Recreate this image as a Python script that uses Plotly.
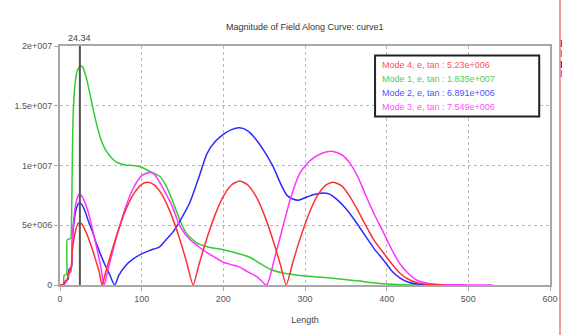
import plotly.graph_objects as go

# ---- data (values in units of 1e6) ----
mode4_x = [0, 4, 6, 9, 10, 13, 14, 15, 17, 20, 23, 26, 30, 35, 40, 45, 48, 51.5,
           56, 62, 70, 80, 90, 100, 107, 115, 125, 135, 145, 155, 163,
           170, 180, 190, 200, 210, 220, 230, 240, 250, 260, 270, 277,
           285, 295, 305, 315, 325, 334, 345, 355, 365, 375, 385, 396, 406, 416, 426, 437, 450, 470]
mode4_y = [0, 0.05, 0.3, 0.4, 1.0, 1.1, 1.5, 2.8, 3.8, 4.8, 5.2, 5.15, 4.7, 3.9, 2.9, 1.8, 1.1, 0,
           1.09, 2.51, 4.28, 6.19, 7.60, 8.42, 8.6, 8.40, 7.55, 6.10, 4.18, 1.93, 0,
           1.67, 3.93, 5.89, 7.41, 8.37, 8.7, 8.37, 7.41, 5.89, 3.93, 1.67, 0,
           1.88, 4.09, 5.99, 7.45, 8.34, 8.6, 8.3, 7.4, 6.2, 4.9, 3.7, 2.7, 1.8, 1.0, 0.5, 0.2, 0.05, 0]

mode1_x = [0, 4, 5, 8, 9, 13, 14, 15, 16, 18, 21, 25, 28, 32, 36, 40, 45, 50, 55, 60, 65, 70, 80,
           90, 100, 110, 122, 130, 138, 147, 155, 168, 180, 200, 220, 233, 245, 258, 273,
           294, 320, 343, 365, 380, 396, 420, 470]
mode1_y = [0, 0, 0.8, 0.9, 3.8, 3.9, 5.0, 10.0, 14.0, 16.5, 17.9, 18.35, 18.2, 17.4, 16.2, 14.9, 13.4, 12.2, 11.4, 10.9, 10.5, 10.25, 10.05,
           10.0, 9.85, 9.5, 9.1, 8.3, 7.0, 5.4, 4.3, 3.5, 3.2, 2.95, 2.6, 2.3, 1.8, 1.3, 1.0,
           0.8, 0.65, 0.5, 0.35, 0.2, 0.1, 0.03, 0]

mode2_x = [0, 5, 8, 10, 11, 14, 15, 17, 20, 23, 26, 30, 35, 40, 45, 50, 55, 60, 67,
           72, 80, 90, 100, 110, 122, 130, 138, 148, 159, 170, 180, 190, 200, 210, 220,
           230, 241, 250, 261, 270, 278, 285, 292, 300, 310, 322, 330, 340, 350, 360,
           375, 385, 396, 406, 416, 426, 437, 450, 462]
mode2_y = [0, 0.05, 0.4, 0.5, 1.3, 1.5, 3.5, 5.2, 6.4, 6.85, 6.8, 6.3, 5.3, 4.4, 3.4, 2.5, 1.7, 1.0, 0,
           0.8, 1.6, 2.2, 2.6, 2.9, 3.2, 3.8, 4.4, 5.5, 6.9, 9.0, 11.0, 12.0, 12.6, 13.0, 13.15,
           12.9, 12.1, 11.2, 9.9, 8.5, 7.5, 7.2, 7.1, 7.3, 7.55, 7.7, 7.6, 7.1, 6.4, 5.5,
           4.0, 3.0, 2.1, 1.2, 0.6, 0.25, 0.08, 0.02, 0]

mode3_x = [0, 5, 8, 10, 13, 14, 15, 17, 20, 23, 26, 30, 35, 40, 45, 50, 54,
           60, 70, 80, 90, 100, 108, 115, 122, 130, 138, 147, 159, 170, 180, 190, 200,
           210, 220, 230, 241, 253, 263, 273, 283, 294, 306, 320, 333, 345, 355, 365,
           375, 385, 396, 406, 416, 426, 437, 450, 470, 500, 530]
mode3_y = [0, 0.05, 0.4, 0.7, 1.4, 1.6, 3.6, 5.6, 7.0, 7.55, 7.5, 7.0, 6.0, 4.6, 3.1, 1.5, 0,
           1.63, 4.2, 6.45, 8.14, 9.15, 9.4, 9.3, 8.6, 7.6, 6.5, 4.9, 3.8, 3.2, 2.7, 2.3, 1.9,
           1.7, 1.5, 1.1, 0.7, 0, 2.3, 4.9, 7.4, 9.4, 10.4, 11.0, 11.2, 10.9, 10.2, 9.0,
           7.4, 5.9, 4.4, 3.0, 1.8, 1.0, 0.4, 0.15, 0.03, 0.01, 0]

legend_labels = ["Mode 4, e, tan : 5.23e+006", "Mode 1, e, tan : 1.835e+007",
                 "Mode 2, e, tan : 6.891e+006", "Mode 3, e, tan : 7.549e+006"]
legend_colors = ["#ff5050", "#50cc50", "#5050ff", "#ff50ff"]

marker_x = 24.34
x_ticks = [0, 100, 200, 300, 400, 500, 600]
y_ticks = [0, 5e6, 1e7, 1.5e7, 2e7]
y_tick_text = ["0", "5e+006", "1e+007", "1.5e+007", "2e+007"]

FONT = "Liberation Sans"

fig = go.Figure()
series = [(mode1_x, mode1_y, "#33cc33"), (mode2_x, mode2_y, "#2a2aff"),
          (mode3_x, mode3_y, "#ff33ff"), (mode4_x, mode4_y, "#ff3030")]
for xs, ys, c in series:
    fig.add_trace(go.Scatter(x=xs, y=[v * 1e6 for v in ys], mode="lines",
                             line=dict(color=c, width=1.5, shape="spline", smoothing=0.6),
                             showlegend=False, hoverinfo="skip"))

axis_common = dict(showline=True, mirror=True, linecolor="#a8a8a8", linewidth=2,
                   ticks="outside", ticklen=4, tickcolor="#a8a8a8",
                   tickfont=dict(family=FONT, size=9, color="#555"),
                   showgrid=True, gridcolor="#b8b8b8", griddash="dot", gridwidth=1,
                   zeroline=False, automargin=False)

fig.update_xaxes(range=[0, 600], tickvals=x_ticks, **axis_common,
                 title=dict(text="Length", font=dict(family=FONT, size=9, color="#444"), standoff=14))
fig.update_yaxes(range=[0, 2e7], tickvals=y_ticks, ticktext=y_tick_text, **axis_common)

edge_x = (560 - 60) / 490
shapes = [
    dict(type="line", xref="x", yref="paper", x0=marker_x, x1=marker_x, y0=0, y1=1,
         line=dict(color="#555555", width=2)),
    dict(type="rect", xref="paper", yref="paper", x0=0.643, x1=0.978, y0=0.705, y1=0.960,
         line=dict(color="#222222", width=2), fillcolor="white"),
    dict(type="line", xref="paper", yref="paper", x0=edge_x, x1=edge_x, y0=-0.25, y1=1.25,
         line=dict(color="#f07878", width=1.5)),
]
# tiny coloured marks at the right edge of the screenshot
for col, ytop in [("#ff2020", 40), ("#a0a020", 50), ("#9020b0", 61), ("#ff40ff", 70)]:
    shapes.append(dict(type="line", xref="paper", yref="paper",
                       x0=(561.5 - 60) / 490, x1=(561.5 - 60) / 490,
                       y0=(285 - ytop) / 239, y1=(285 - ytop - 7) / 239,
                       line=dict(color=col, width=1.5)))
fig.update_layout(shapes=shapes)

annotations = [
    dict(text="Magnitude of Field Along Curve: curve1", xref="paper", yref="paper",
         x=0.5, y=(285 - 27) / 239, xanchor="center", yanchor="middle", showarrow=False,
         font=dict(family=FONT, size=9, color="#333")),
    dict(text=f"{marker_x}", xref="x", yref="paper", x=marker_x, y=(285 - 38) / 239,
         xanchor="center", yanchor="middle", showarrow=False,
         font=dict(family=FONT, size=9, color="#444")),
]
for i, (lab, col) in enumerate(zip(legend_labels, legend_colors)):
    py = 65 + 14 * i
    annotations.append(dict(text=lab, xref="paper", yref="paper",
                            x=(380 - 60) / 490, y=(285 - py) / 239,
                            xanchor="left", yanchor="middle", showarrow=False,
                            font=dict(family=FONT, size=9, color=col)))
fig.update_layout(annotations=annotations)

fig.update_layout(width=562, height=335, margin=dict(l=60, r=12, t=46, b=50),
                  plot_bgcolor="white", paper_bgcolor="white")

fig.write_html("out.html", config={"displayModeBar": False},
               post_script="document.body.style.margin='0';document.body.style.overflow='hidden';")
